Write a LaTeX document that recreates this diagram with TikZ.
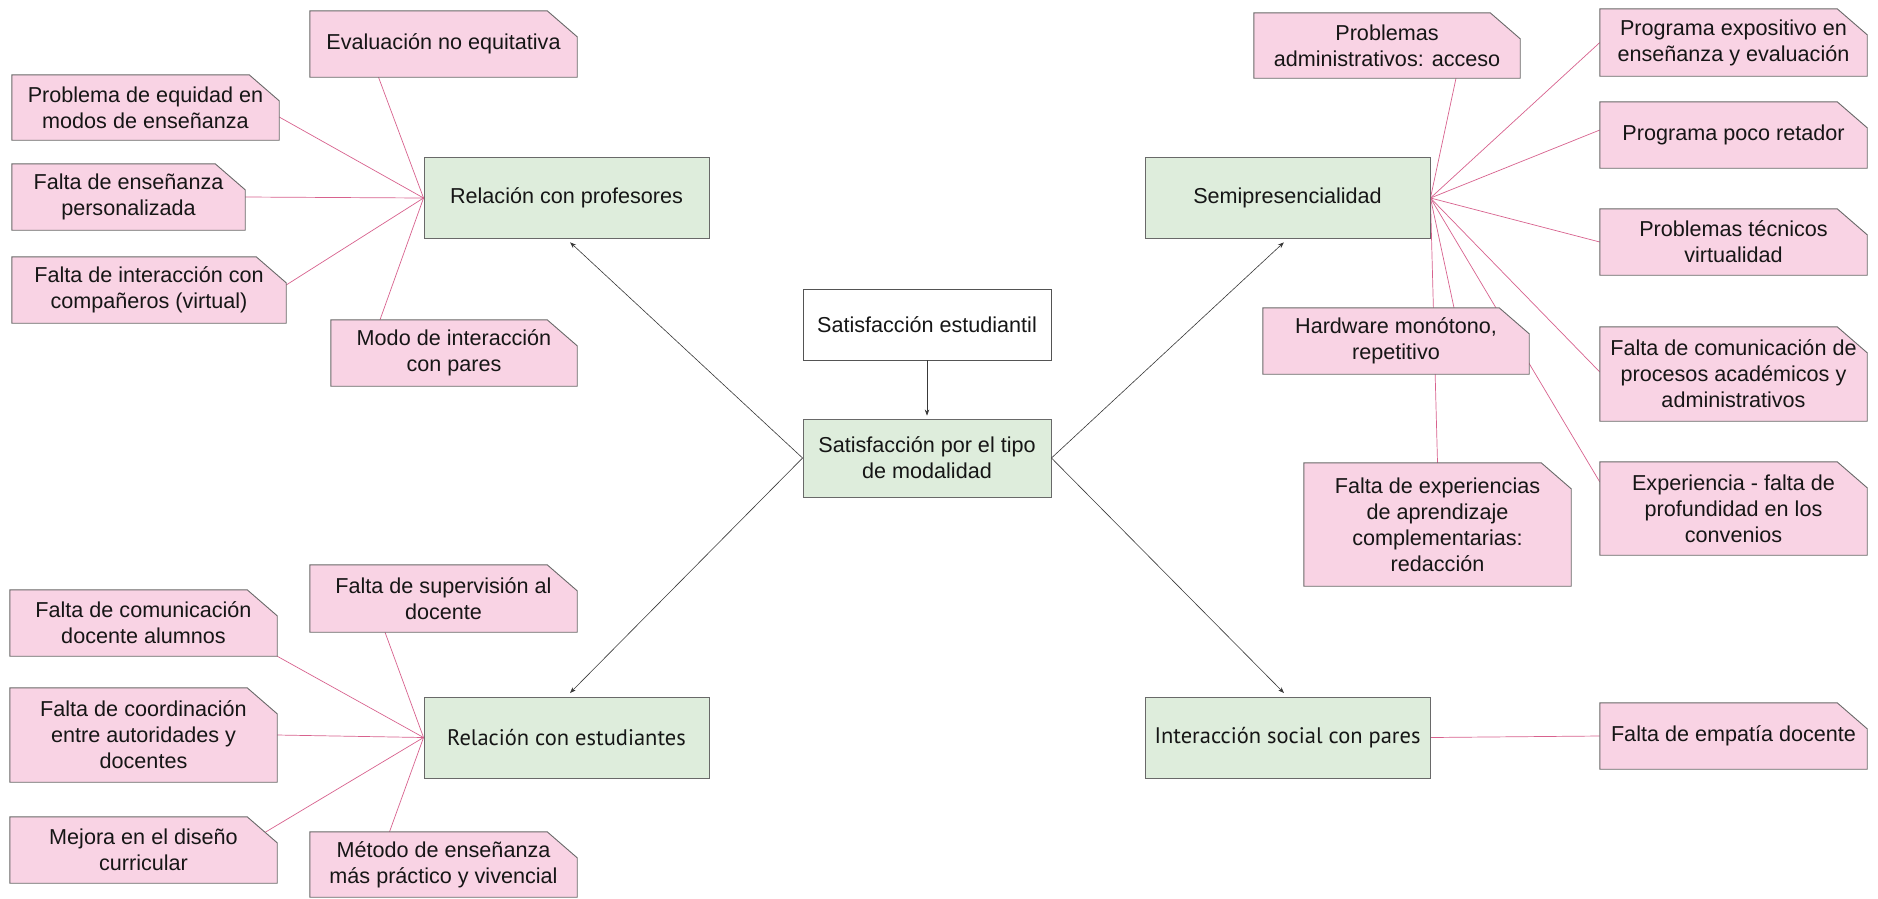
\documentclass[tikz,border=0pt]{standalone}
\usepackage{fontspec}
\setmainfont{Liberation Sans}
\newfontfamily\topicalt{PT Sans}
\usetikzlibrary{arrows.meta,calc}
\definecolor{notefill}{RGB}{249,211,228}
\definecolor{topicfill}{RGB}{222,237,220}
\definecolor{edgegray}{RGB}{105,105,105}
\definecolor{linkpink}{RGB}{216,98,142}
\definecolor{ink}{RGB}{22,22,22}
\pgfdeclarelayer{backdrop}
\pgfdeclarelayer{links}
\pgfdeclarelayer{paper}
\pgfsetlayers{backdrop,links,paper,main}
\begin{document}
\begin{tikzpicture}[x=1pt,y=-1pt,
  every node/.style={font=\fontsize{21.6}{26}\selectfont, text=ink, align=center, inner sep=0pt},
  note/.style={rectangle, minimum width=267pt, minimum height=66pt},
  noteshape/.style={draw=edgegray, line width=0.9pt, fill=notefill},
  topic/.style={rectangle, draw=edgegray, line width=0.9pt, fill=topicfill, minimum width=285pt, minimum height=81pt},
  root/.style={rectangle, draw=edgegray!80!black, line width=0.9pt, fill=white, minimum width=248pt, minimum height=71pt},
  link/.style={draw=linkpink, line width=0.7pt},
  pointer/.style={draw=ink!85, line width=0.6pt, -{Stealth[length=6pt,width=4.5pt]}, shorten >=5pt}]

\useasboundingbox (0,0) rectangle (1878,898);
\begin{pgfonlayer}{backdrop}
  \fill[white] (0,0) rectangle (1878,898);
\end{pgfonlayer}

% centre
\node[root] (c1) at (927,324.5) {Satisfacción estudiantil};
\node[topic, minimum width=248pt, minimum height=78pt] (c2) at (927,458) {Satisfacción por el tipo\\de modalidad};

% four topics
\node[topic] (g1) at (566.5,198) {Relación con profesores};
\node[topic] (g2) at (1287.5,198) {Semipresencialidad};
\node[topic] (g3) at (566.5,737.5) {\topicalt\fontsize{22.5}{26}\selectfont Relación con estudiantes};
\node[topic] (g4) at (1287.5,737.5) {\topicalt\fontsize{22.5}{26}\selectfont Interacción social con pares};

% notes: teachers
\node[note] (n1) at (443.5,44) {Evaluación no equitativa};
\node[note, minimum height=65pt] (n2) at (145.5,107.5) {Problema de equidad en\\modos de enseñanza};
\node[note, minimum width=233pt] (n3) at (128.5,197) {Falta de enseñanza\\personalizada};
\node[note, minimum width=274pt] (n4) at (149,290) {Falta de interacción con\\compañeros (virtual)};
\node[note, minimum width=246pt] (n5) at (454,353) {Modo de interacción\\con pares};

% notes: students
\node[note] (n6) at (143.5,623) {Falta de comunicación\\docente alumnos};
\node[note, minimum height=94pt] (n7) at (143.5,735) {Falta de coordinación\\entre autoridades y\\docentes};
\node[note] (n8) at (143.5,850) {Mejora en el diseño\\curricular};
\node[note, minimum height=67pt] (n9) at (443.5,598.5) {Falta de supervisión al\\docente};
\node[note, minimum height=65pt] (n10) at (443.5,864.5) {Método de enseñanza\\más práctico y vivencial};

% notes: blended mode
\node[note, minimum width=266pt, minimum height=65pt] (n11) at (1387,45.5) {Problemas\\administrativos: acceso};
\node[note, minimum height=67pt] (n12) at (1733.5,42.5) {Programa expositivo en\\enseñanza y evaluación};
\node[note] (n13) at (1733.5,135) {Programa poco retador};
\node[note] (n14) at (1733.5,242) {Problemas técnicos\\virtualidad};
\node[note, minimum width=266pt] (n15) at (1396,341) {Hardware monótono,\\repetitivo};
\node[note, minimum height=94pt] (n16) at (1733.5,374) {Falta de comunicación de\\procesos académicos y\\administrativos};
\node[note, minimum height=123pt] (n17) at (1437.5,524.5) {Falta de experiencias\\de aprendizaje\\complementarias:\\redacción};
\node[note, minimum height=93pt] (n18) at (1733.5,508.5) {Experiencia - falta de\\profundidad en los\\convenios};

% notes: peers
\node[note] (n19) at (1733.5,736) {Falta de empatía docente};

% note outlines with the cut corner
\begin{pgfonlayer}{paper}
  \foreach \n in {n1,n2,n3,n4,n5,n6,n7,n8,n9,n10,n11,n12,n13,n14,n15,n16,n17,n18,n19}
    \draw[noteshape] (\n.south west) -- (\n.north west) -- ([xshift=-30pt]\n.north east)
      -- ([yshift=-26pt]\n.north east) -- (\n.south east) -- cycle;
\end{pgfonlayer}

% pink links, kept behind the boxes
\begin{pgfonlayer}{links}
  \draw[link] (g1.west) -- ($(n1.south)+(-65,0)$);
  \draw[link] (g1.west) -- ($(n2.east)+(0,9.5)$);
  \draw[link] (g1.west) -- (n3.east);
  \draw[link] (g1.west) -- ($(n4.east)+(0,-5)$);
  \draw[link] (g1.west) -- ($(n5.north)+(-74,0)$);

  \draw[link] (g3.west) -- (n6.south east);
  \draw[link] (g3.west) -- ($(n9.south)+(-58.5,0)$);
  \draw[link] (g3.west) -- (n7.east);
  \draw[link] (g3.west) -- ($(n8.center)+(120.5,-17)$);
  \draw[link] (g3.west) -- ($(n10.north)+(-54,0)$);

  \draw[link] (g2.east) -- ($(n11.south)+(69,0)$);
  \draw[link] (g2.east) -- (n12.west);
  \draw[link] (g2.east) -- ($(n13.west)+(0,-5)$);
  \draw[link] (g2.east) -- (n14.west);
  \draw[link] (g2.east) -- ($(n15.north)+(58,0)$);
  \draw[link] (g2.east) -- ($(n16.west)+(0,-2)$);
  \draw[link] (g2.east) -- (n17.north);
  \draw[link] (g2.east) -- ($(n18.west)+(0,-26.5)$);

  \draw[link] (g4.east) -- (n19.west);
\end{pgfonlayer}

% arrows from the centre
\draw[pointer, shorten >=3pt] (c1.south) -- (c2.north);
\draw[pointer] (c2.west) -- (g1.south);
\draw[pointer] (c2.west) -- (g3.north);
\draw[pointer] (c2.east) -- (g2.south);
\draw[pointer] (c2.east) -- (g4.north);
\end{tikzpicture}
\end{document}
